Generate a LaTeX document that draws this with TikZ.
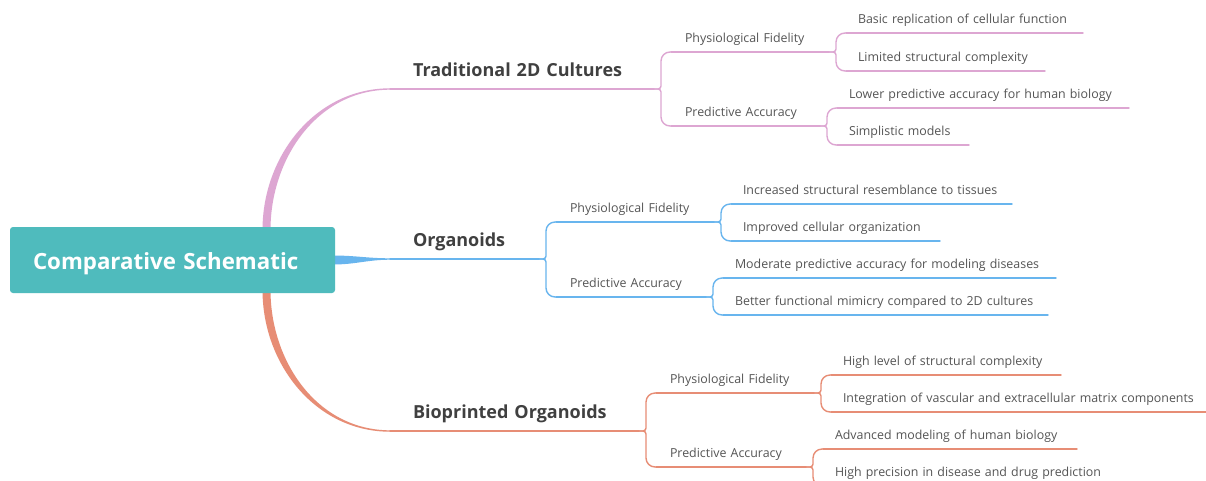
\documentclass[tikz,border=0pt]{standalone}
\usepackage{fontspec}
\setmainfont{Open Sans}
\usetikzlibrary{backgrounds}
\definecolor{MapTeal}{RGB}{79,187,189}
\definecolor{MapPink}{RGB}{221,166,210}
\definecolor{MapBlue}{RGB}{104,181,238}
\definecolor{MapCoral}{RGB}{231,141,117}
\definecolor{MapInk}{RGB}{64,64,64}
\definecolor{MapText}{RGB}{85,85,85}

\tikzset{
  rootbox/.style={fill=MapTeal, text=white, rounded corners=3pt, outer sep=0pt,
    inner xsep=23pt, text width=279pt, minimum height=66pt, align=left,
    text height=19pt, text depth=0pt,
    font=\fontsize{22.3}{27}\selectfont\bfseries},
  topic/.style={anchor=south west, outer sep=0pt, inner xsep=23pt, inner ysep=13pt,
    text depth=0pt, text width=#1, align=left, text=MapInk,
    font=\fontsize{18}{22}\selectfont\bfseries},
  aspect/.style={anchor=south west, outer sep=0pt, inner xsep=14pt, inner ysep=9.5pt,
    text depth=0pt, text width=#1, align=left, text=MapText,
    font=\fontsize{12.4}{15}\selectfont},
  detail/.style={aspect=#1, inner xsep=12pt},
  rule/.style={line width=1.4pt, line cap=round},
}

\begin{document}
\begin{tikzpicture}[x=1pt, y=1pt]
  \useasboundingbox (0,0) rectangle (1206,-480);
  \clip (0,0) rectangle (1206,-480);

  \node[rootbox] (root) at (172.5,-260) {Comparative Schematic};

  % main branches
  \node[topic=218pt] (trad) at (390,-89) {Traditional 2D Cultures};
  \node[topic=103pt] (org) at (390,-259) {Organoids};
  \node[topic=203pt] (bio) at (390,-431) {Bioprinted Organoids};

  % second level
  \node[aspect=130pt] (trad-fid) at (671,-52) {Physiological Fidelity};
  \node[aspect=121pt] (trad-acc) at (671,-126) {Predictive Accuracy};
  \node[aspect=130pt] (org-fid) at (556,-222) {Physiological Fidelity};
  \node[aspect=122pt] (org-acc) at (556,-297) {Predictive Accuracy};
  \node[aspect=130pt] (bio-fid) at (656,-393) {Physiological Fidelity};
  \node[aspect=122pt] (bio-acc) at (656,-467) {Predictive Accuracy};

  % leaves
  \node[detail=213pt] (trad-fid-1) at (846,-33) {Basic replication of cellular function};
  \node[detail=175pt] (trad-fid-2) at (846,-71) {Limited structural complexity};
  \node[detail=268pt] (trad-acc-1) at (837,-108) {Lower predictive accuracy for human biology};
  \node[detail=108pt] (trad-acc-2) at (837,-145) {Simplistic models};
  \node[detail=257pt] (org-fid-1) at (731,-204) {Increased structural resemblance to tissues};
  \node[detail=185pt] (org-fid-2) at (731,-241) {Improved cellular organization};
  \node[detail=309pt] (org-acc-1) at (723,-278) {Moderate predictive accuracy for modeling diseases};
  \node[detail=301pt] (org-acc-2) at (723,-315) {Better functional mimicry compared to 2D cultures};
  \node[detail=206pt] (bio-fid-1) at (831,-375) {High level of structural complexity};
  \node[detail=360pt] (bio-fid-2) at (831,-412) {Integration of vascular and extracellular matrix components};
  \node[detail=230pt] (bio-acc-1) at (823,-449) {Advanced modeling of human biology};
  \node[detail=278pt] (bio-acc-2) at (823,-486) {High precision in disease and drug prediction};

  % underlines
  \foreach \n/\col in {trad/MapPink, trad-fid/MapPink, trad-acc/MapPink,
      trad-fid-1/MapPink, trad-fid-2/MapPink, trad-acc-1/MapPink, trad-acc-2/MapPink,
      org/MapBlue, org-fid/MapBlue, org-acc/MapBlue,
      org-fid-1/MapBlue, org-fid-2/MapBlue, org-acc-1/MapBlue, org-acc-2/MapBlue,
      bio/MapCoral, bio-fid/MapCoral, bio-acc/MapCoral,
      bio-fid-1/MapCoral, bio-fid-2/MapCoral, bio-acc-1/MapCoral, bio-acc-2/MapCoral}
    \draw[rule, draw=\col] (\n.south west) -- (\n.south east);

  % forks from parent to children
  \foreach \src/\dst/\col in {trad/trad-fid/MapPink, trad/trad-acc/MapPink,
      trad-fid/trad-fid-1/MapPink, trad-fid/trad-fid-2/MapPink,
      trad-acc/trad-acc-1/MapPink, trad-acc/trad-acc-2/MapPink,
      org/org-fid/MapBlue, org/org-acc/MapBlue,
      org-fid/org-fid-1/MapBlue, org-fid/org-fid-2/MapBlue,
      org-acc/org-acc-1/MapBlue, org-acc/org-acc-2/MapBlue,
      bio/bio-fid/MapCoral, bio/bio-acc/MapCoral,
      bio-fid/bio-fid-1/MapCoral, bio-fid/bio-fid-2/MapCoral,
      bio-acc/bio-acc-1/MapCoral, bio-acc/bio-acc-2/MapCoral}
    \draw[rule, draw=\col] (\src.south east) [rounded corners=3pt] -- ++(7,0)
      [rounded corners=9pt] |- (\dst.south west);

  % tapered links out of the root
  \begin{scope}[on background layer]
    \fill[white] (0,0) rectangle (1206,-480);
    \fill[MapPink] ([xshift=90pt,yshift=-3pt]root.north) to[out=90,in=180] ([yshift=0.7pt]trad.south west)
      -- ([yshift=-0.7pt]trad.south west) to[out=180,in=90] ([xshift=98pt,yshift=-3pt]root.north) -- cycle;
    \fill[MapBlue] ([xshift=-2pt,yshift=4.5pt]root.east) to[out=0,in=180] ([yshift=0.7pt]org.south west)
      -- ([yshift=-0.7pt]org.south west) to[out=180,in=0] ([xshift=-2pt,yshift=-4.5pt]root.east) -- cycle;
    \fill[MapCoral] ([xshift=90pt,yshift=3pt]root.south) to[out=-90,in=180] ([yshift=-0.7pt]bio.south west)
      -- ([yshift=0.7pt]bio.south west) to[out=180,in=-90] ([xshift=98pt,yshift=3pt]root.south) -- cycle;
  \end{scope}
\end{tikzpicture}
\end{document}
